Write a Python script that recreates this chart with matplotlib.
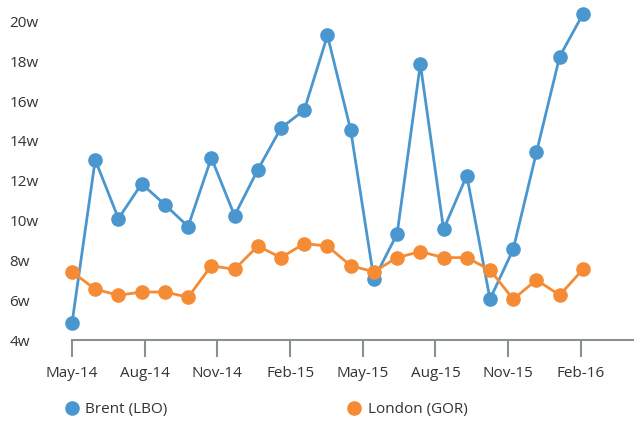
import numpy as np
from matplotlib import pyplot as plt
from matplotlib.lines import Line2D

plt.rcParams['font.family'] = ['Open Sans', 'DejaVu Sans']

# values (weeks)
brent = [4.84, 13.05, 10.1, 11.85, 10.8, 9.7, 13.15, 10.25, 12.55, 14.65, 15.55,
         19.3, 14.55, 7.05, 9.33, 17.87, 9.56, 12.26, 6.05, 8.56, 13.43, 18.24, 20.37]
london = [7.43, 6.55, 6.25, 6.41, 6.41, 6.15, 7.73, 7.55, 8.72, 8.14, 8.84,
          8.72, 7.73, 7.43, 8.14, 8.44, 8.14, 8.14, 7.52, 6.05, 7.02, 6.25, 7.55]
tick_labels = ['May-14', 'Aug-14', 'Nov-14', 'Feb-15', 'May-15', 'Aug-15', 'Nov-15', 'Feb-16']
y_ticks = [4, 6, 8, 10, 12, 14, 16, 18, 20]

blue = '#4a97d0'
orange = '#f68b35'
fs = 11

fig = plt.figure(figsize=(6.34, 4.21), dpi=100)
ax = fig.add_axes([72 / 634, 1 - 340 / 421, 562 / 634, 340 / 421])

x = np.arange(len(brent))
ax.plot(x, brent, color=blue, lw=2, marker='o', ms=9.5, clip_on=False, zorder=3)
ax.plot(x, london, color=orange, lw=2, marker='o', ms=9.5, clip_on=False, zorder=3)

ax.set_xlim(0, 24.2)
ax.set_ylim(4, 21.08)

ax.set_xticks(np.arange(len(tick_labels)) * 3.13)
ax.set_xticklabels(tick_labels)
ax.set_yticks(y_ticks)
ax.set_yticklabels([f'{v}w' for v in y_ticks])

for s in ['top', 'right', 'left']:
    ax.spines[s].set_visible(False)
ax.spines['bottom'].set_color('#8a8f94')
ax.spines['bottom'].set_linewidth(1.5)

ax.tick_params(axis='x', length=12, width=1.5, color='#8a8f94', pad=7,
               labelsize=fs, labelcolor='#333333')
ax.tick_params(axis='y', length=0, labelsize=fs, labelcolor='#333333', pad=45)
for lab in ax.get_yticklabels():
    lab.set_horizontalalignment('left')

handles = [Line2D([], [], color=blue, marker='o', ls='', ms=9.5),
           Line2D([], [], color=orange, marker='o', ls='', ms=9.5)]
fig.legend(handles, ['Brent (LBO)', 'London (GOR)'], ncol=2, frameon=False,
           loc='center left', bbox_to_anchor=(56.4 / 634, 1 - 410 / 421),
           borderpad=0, handlelength=1, handletextpad=0.4, columnspacing=11.7,
           fontsize=fs, labelcolor='#333333')

fig.savefig('out.png', dpi=100)
